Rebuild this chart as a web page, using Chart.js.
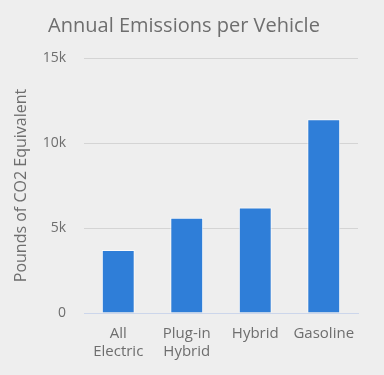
<!DOCTYPE html>
<html>
<head>
<meta charset="utf-8">
<script src="https://cdn.jsdelivr.net/npm/chart.js@4"></script>
<style>
  html, body { margin: 0; padding: 0; background: #eeeeee; }
  #wrap { width: 384px; height: 375px; }
</style>
</head>
<body>
<div id="wrap"><canvas id="plot1" width="384" height="375"></canvas></div>
<script>
// categorias y valores
const categorias = [['All', 'Electric'], ['Plug-in', 'Hybrid'], 'Hybrid', 'Gasoline'];
const emisiones = [3700, 5600, 6200, 11400];
const ticksY = [0, 5000, 10000, 15000];
const etiquetasY = ['0', '5k', '10k', '15k'];

const fuente = "'Open Sans', sans-serif";
const gris = '#6e6e6e';

let plotRef = document.getElementById('plot1');
let config = {
  type: 'bar',
  data: {
    labels: categorias,
    datasets: [{
      label: 'Emissions',
      data: emisiones,
      backgroundColor: '#2f7ed8',
      borderColor: 'rgba(255, 255, 255, 0.75)',
      borderWidth: 1,
      categoryPercentage: 1,
      barPercentage: 0.48
    }]
  },
  options: {
    responsive: false,
    animation: false,
    devicePixelRatio: 1,
    layout: { padding: { left: 10, right: 26, top: 0, bottom: 0 } },
    plugins: {
      legend: { display: false },
      tooltip: { enabled: false },
      title: {
        display: true,
        text: 'Annual Emissions per Vehicle',
        color: gris,
        font: { family: fuente, size: 20, weight: 'normal', lineHeight: 1.2 },
        padding: { top: 14, bottom: 20 }
      }
    },
    scales: {
      x: {
        grid: { display: false, drawTicks: false },
        border: { display: true, color: '#ccd6eb', width: 1 },
        ticks: {
          color: gris,
          font: { family: fuente, size: 15, lineHeight: 1.25 },
          padding: 11,
          maxRotation: 0
        },
        afterFit: (s) => { s.height = 62; }
      },
      y: {
        min: 0,
        max: 15000,
        afterBuildTicks: (s) => { s.ticks = ticksY.map(v => ({ value: v })); },
        grid: { color: '#d4d4d4', lineWidth: 1, drawTicks: false },
        border: { display: false },
        ticks: {
          color: gris,
          font: { family: fuente, size: 14 },
          padding: 18,
          callback: (v) => etiquetasY[ticksY.indexOf(v)]
        },
        title: {
          display: true,
          text: 'Pounds of CO2 Equivalent',
          color: gris,
          font: { family: fuente, size: 16 },
          padding: { top: 2, bottom: 2 }
        },
        afterFit: (s) => { s.width = 74; }
      }
    }
  }
};
let chart1 = new Chart(plotRef, config);
</script>
</body>
</html>
